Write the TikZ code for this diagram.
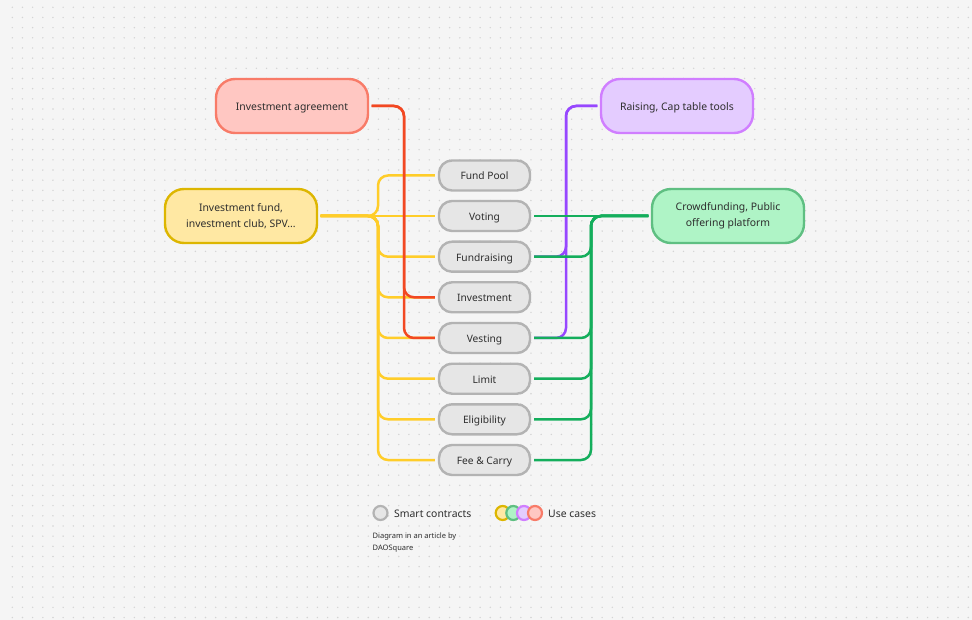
\documentclass[tikz,border=0pt]{standalone}
\usepackage{fontspec}
\setmainfont{Noto Sans}
\definecolor{bg}{HTML}{F5F5F5}
\definecolor{dotc}{HTML}{D4D4D4}
\definecolor{txt}{HTML}{2E2E2E}
\definecolor{grayfill}{HTML}{E6E6E6}
\definecolor{grayline}{HTML}{B3B3B3}
\definecolor{redline}{HTML}{F24822}
\definecolor{redfill}{HTML}{FFC7C2}
\definecolor{redborder}{HTML}{F87B68}
\definecolor{yelline}{HTML}{FFCD29}
\definecolor{yelfill}{HTML}{FFE8A3}
\definecolor{yelborder}{HTML}{DDB600}
\definecolor{purline}{HTML}{9747FF}
\definecolor{purfill}{HTML}{E4CCFF}
\definecolor{purborder}{HTML}{D07EFF}
\definecolor{grnline}{HTML}{14AE5C}
\definecolor{grnfill}{HTML}{AFF4C6}
\definecolor{grnborder}{HTML}{5FBF82}
\tikzset{
  usecase/.style={draw, line width=2.4pt, rounded corners=19pt, minimum width=152pt, minimum height=54pt, align=center, text=txt, font=\fontsize{10.4}{15.8}\selectfont, inner sep=0pt},
  oneline/.style={text height=0.9em, text depth=0pt},
  contract/.style={draw=grayline, fill=grayfill, line width=2.4pt, rounded corners=13pt, minimum width=91pt, minimum height=30pt, text=txt, font=\fontsize{10.2}{12}\selectfont, inner sep=0pt, text height=0.9em, text depth=0pt},
  conn/.style={line width=2.5pt, rounded corners=10pt, shorten <=2.5pt, shorten >=3pt},
  yel/.style={conn, draw=yelline},
  red/.style={conn, draw=redline},
  pur/.style={conn, draw=purline},
  grn/.style={conn, draw=grnline},
  legtext/.style={text=txt, font=\fontsize{10.4}{12}\selectfont, anchor=west, inner sep=0pt},
  legdot/.style={circle, line width=2.2pt, minimum size=14pt, inner sep=0pt},
}
\begin{document}
\begin{tikzpicture}[x=1pt, y=-1pt]
\useasboundingbox (0,0) rectangle (972,620);
\fill[bg] (0,0) rectangle (972,620);
\foreach \i in {0,...,95} {
  \foreach \j in {0,...,60} {
    \fill[dotc] (12.3+\i*10.17, 7.3+\j*10.17) circle (0.8);
  }
}
% use case nodes
\node[usecase, oneline, draw=redborder, fill=redfill] (agree) at (292,106) {Investment agreement};
\node[usecase, draw=yelborder, fill=yelfill] (fund) at (241,216) {Investment fund,\\investment club, SPV...};
\node[usecase, oneline, draw=purborder, fill=purfill] (raise) at (677,106) {Raising, Cap table tools};
\node[usecase, draw=grnborder, fill=grnfill] (crowd) at (728,216) {Crowdfunding, Public\\offering platform};
% smart contracts
\node[contract] (pool) at (484.5,175.5) {Fund Pool};
\node[contract] (vote) at (484.5,216) {Voting};
\node[contract] (raisec) at (484.5,256.7) {Fundraising};
\node[contract] (inv) at (484.5,297.3) {Investment};
\node[contract] (vest) at (484.5,338) {Vesting};
\node[contract] (lim) at (484.5,378.7) {Limit};
\node[contract] (elig) at (484.5,419.3) {Eligibility};
\node[contract] (fee) at (484.5,460) {Fee \& Carry};
% yellow
\draw[yel] (fund.east) -- (vote.west);
\foreach \n in {pool,raisec,inv,vest,lim,elig,fee} {
  \draw[yel] (fund.east) -- (378,216) |- (\n.west);
}
% red
\draw[red] (agree.east) -- (404,106) |- (inv.west);
\draw[red] (agree.east) -- (404,106) |- (vest.west);
% purple
\draw[pur] (raise.west) -- (566,106) |- (raisec.east);
\draw[pur] (raise.west) -- (566,106) |- (vest.east);
% green
\draw[grn] (crowd.west) -- (vote.east);
\foreach \n in {raisec,vest,lim,elig,fee} {
  \draw[grn] (crowd.west) -- (591,216) |- (\n.east);
}
% legend
\node[legdot, draw=grayline, fill=grayfill] (lg) at (380.5,513) {};
\node[legtext] (lgt) at (394,513.5) {Smart contracts};
\node[legdot, draw=yelborder, fill=yelfill] (ly) at (502.7,513) {};
\node[legdot, draw=grnborder, fill=grnfill] (lgr) at (513.3,513) {};
\node[legdot, draw=purborder, fill=purfill] (lp) at (524,513) {};
\node[legdot, draw=redborder, fill=redfill] (lr) at (535,513) {};
\node[legtext] (lut) at (548,513.5) {Use cases};
\node[text=txt, font=\fontsize{7.5}{11.5}\selectfont, anchor=north west, align=left, inner sep=0pt] (cap) at (372.5,533) {Diagram in an article by\\DAOSquare};
\end{tikzpicture}
\end{document}
